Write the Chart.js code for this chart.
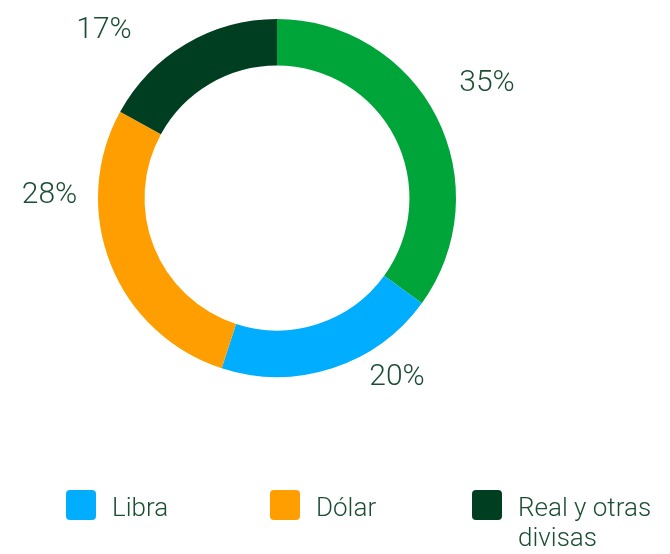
<!DOCTYPE html>
<html>
<head>
  <meta charset="UTF-8">
  <title>Divisas</title>
  <script src="https://cdn.jsdelivr.net/npm/chart.js@4"></script>
  <style>
    * { margin: 0; padding: 0; box-sizing: border-box; }
    body { width: 670px; height: 554px; background: #fff; overflow: hidden; font-family: Roboto, Inter, sans-serif; }
    .wrap { position: relative; width: 670px; height: 554px; }
    canvas { position: absolute; left: 0; top: 0; }
    .legend { position: absolute; left: 0; top: 0; width: 670px; height: 554px; pointer-events: none; }
    .item { position: absolute; display: flex; align-items: flex-start; color: #1c4e34; font-size: 26px; line-height: 30px; font-weight: 300; }
    .item .txt { margin-top: 2px; }
    .swatch { width: 30px; height: 30px; border-radius: 4px; margin-right: 16px; flex: none; }
  </style>
</head>
<body>
  <div class="wrap">
    <canvas id="chart" width="670" height="554"></canvas>
    <div class="legend" id="legend"></div>
  </div>
  <script>
    // datos
    const labels = ["Euro", "Libra", "Dólar", "Real y otras divisas"];
    const values = [35, 20, 28, 17];
    const colors = ["#00a53a", "#00adff", "#ff9e00", "#003e22"];
    const legendLabels = [null, ["Libra"], ["Dólar"], ["Real y otras", "divisas"]];

    // posición de las etiquetas: fracción del arco y radio relativo
    const labelAt = [0.487, 0.28, 0.72, 0.25];
    const labelRadius = [1.337, 1.204, 1.271, 1.346];
    const legendPos = [null, [66, 490], [270, 490], [472, 490]];

    const pctLabels = {
      id: "pctLabels",
      afterDatasetsDraw(chart) {
        const ctx = chart.ctx;
        const arcs = chart.getDatasetMeta(0).data;
        ctx.save();
        ctx.fillStyle = "#1c4e34";
        ctx.font = "300 30px Roboto, Inter, sans-serif";
        ctx.textAlign = "center";
        ctx.textBaseline = "middle";
        arcs.forEach((arc, i) => {
          const a = arc.startAngle + (arc.endAngle - arc.startAngle) * labelAt[i];
          const r = arc.outerRadius * labelRadius[i];
          ctx.fillText(values[i] + "%", arc.x + Math.cos(a) * r, arc.y + Math.sin(a) * r);
        });
        ctx.restore();
      }
    };

    new Chart(document.getElementById("chart"), {
      type: "doughnut",
      data: {
        labels: labels,
        datasets: [{
          data: values,
          backgroundColor: colors,
          borderWidth: 0
        }]
      },
      options: {
        responsive: false,
        animation: false,
        cutout: "74%",
        layout: { padding: { left: 98, right: 214, top: 19, bottom: 177 } },
        plugins: { legend: { display: false }, tooltip: { enabled: false } }
      },
      plugins: [pctLabels]
    });

    // leyenda
    const legend = document.getElementById("legend");
    legendLabels.forEach((lines, i) => {
      if (!lines) return;
      const item = document.createElement("div");
      item.className = "item";
      item.style.left = legendPos[i][0] + "px";
      item.style.top = legendPos[i][1] + "px";
      item.innerHTML = `<span class="swatch" style="background:${colors[i]}"></span><span class="txt">${lines.join("<br>")}</span>`;
      legend.appendChild(item);
    });
  </script>
</body>
</html>
